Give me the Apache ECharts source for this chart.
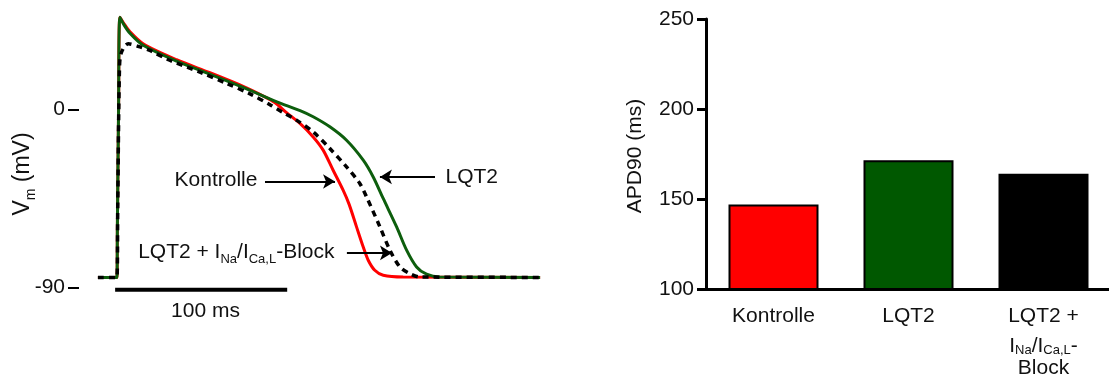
<!DOCTYPE html>
<html>
<head>
<meta charset="utf-8">
<script src="https://cdn.jsdelivr.net/npm/echarts@6/dist/echarts.min.js"></script>
<style>
  html, body { margin: 0; padding: 0; background: #fff; }
  #chart { width: 1109px; height: 378px; }
</style>
</head>
<body>
<div id="chart"></div>
<script>
// Action potential traces: [time (ms), membrane potential (mV)]
var kontrolleTrace = [
  [-11, -85], [0, -85], [0.3, -60], [1.0, 0], [1.8, 46.8], [4, 43.8], [7.6, 39.5],
  [15.3, 33.4], [34.7, 25.3], [54.1, 18.7], [73.4, 11.8], [86, 6.5], [92, 3.5],
  [98.6, -1.5], [106.4, -7.0], [114.1, -13.8], [119.9, -20.5], [125.7, -30.7],
  [131.5, -40.8], [135, -48], [139.3, -59.4], [143.2, -69.6], [146.1, -76.3],
  [149.9, -81.4], [154.8, -83.9], [166.4, -84.8], [246, -85]
];
var lqt2Trace = [
  [-11, -85], [0, -85], [0.3, -60], [1.0, 0], [1.8, 46.8], [4, 43.2], [7.6, 38.7],
  [15.3, 32.6], [34.7, 24.6], [54.1, 18.0], [73.4, 11.3], [93, 4.0], [106.5, -0.5],
  [114.1, -3.6], [123.8, -8.7], [133.5, -15.5], [143.2, -25.6], [149, -34.1],
  [154.8, -45], [162.6, -59.4], [168.4, -71.2], [174.2, -79.7], [180, -83.4],
  [187.7, -84.8], [246, -85]
];
var blockTrace = [
  [-11, -85], [0, -85], [0.5, -50], [1.5, 20], [2.5, 28.6], [6.6, 33.4], [13.4, 31.8],
  [19.2, 30.0], [30, 25.3], [48.3, 19.0], [63.8, 13.3], [77.4, 8.0], [89, 2.5],
  [96.7, -1.5], [104.4, -5.3], [114.1, -11.3], [123.8, -19.7], [133.5, -29.0],
  [141.2, -37.4], [145.1, -44.2], [152.9, -59.4], [158.7, -71.2], [164.5, -79.7],
  [170.3, -83.1], [176.1, -84.8], [246, -85]
];
var potentialTicks = [-90, 0];
var scaleBar = [[-1, -91.2], [99, -91.2]];
var scaleBarText = '100 ms';

// Bar panel: APD90 per condition
var barCategories = [
  'Kontrolle',
  'LQT2',
  'LQT2 +\n{z|\u200b}{m|I}{s|Na}{m|/I}{s|Ca,L}{m|-}\nBlock'
];
var apd90Values = [147, 171.5, 164];
var barColors = ['#ff0000', '#005800', '#000000'];
var apdTicks = { min: 100, max: 250, step: 50 };

var FONT = '"Liberation Sans", Arial, sans-serif';
var INK = '#111';
var FS = 21;
var subRich = {
  s: { fontSize: 13, fontFamily: FONT, color: INK, verticalAlign: 'bottom', lineHeight: 28 }
};

var chart = echarts.init(document.getElementById('chart'), null, { renderer: 'canvas' });

var traceLine = function (name, data, color, dashed) {
  return {
    name: name, type: 'line', xAxisIndex: 0, yAxisIndex: 0, data: data,
    showSymbol: false, symbol: 'none', smooth: 0.3,
    animation: false, silent: true,
    lineStyle: dashed
      ? { color: color, width: 3.5, type: [6, 5], cap: 'butt' }
      : { color: color, width: 3 }
  };
};

chart.setOption({
  backgroundColor: '#ffffff',
  animation: false,
  textStyle: { fontFamily: FONT, color: INK },
  grid: [
    { left: 79, top: 11, width: 468, height: 296, outerBoundsMode: 'none' },
    { left: 706, top: 19, width: 405, height: 270, outerBoundsMode: 'none' }
  ],
  xAxis: [
    { gridIndex: 0, type: 'value', min: -22, max: 250, show: false },
    {
      gridIndex: 1, type: 'category', data: barCategories,
      axisLine: { show: true, lineStyle: { color: '#000', width: 3 } },
      axisTick: { show: false },
      axisLabel: {
        margin: 16, fontSize: FS, color: INK, fontFamily: FONT, lineHeight: 22,
        interval: 0,
        rich: {
          z: { fontSize: FS, fontFamily: FONT, color: INK, lineHeight: 30 },
          m: { fontSize: FS, fontFamily: FONT, color: INK, lineHeight: 22, verticalAlign: 'bottom' },
          s: { fontSize: 13, fontFamily: FONT, color: INK, lineHeight: 9, verticalAlign: 'bottom' }
        }
      },
      splitLine: { show: false }
    }
  ],
  yAxis: [
    {
      gridIndex: 0, type: 'value', min: -100, max: 50,
      axisLine: { show: false, onZero: false },
      splitLine: { show: false },
      axisTick: { show: true, length: 11, customValues: potentialTicks, lineStyle: { color: '#000', width: 2 } },
      axisLabel: { customValues: potentialTicks, margin: 14, fontSize: FS, color: INK, fontFamily: FONT }
    },
    {
      gridIndex: 1, type: 'value', min: apdTicks.min, max: apdTicks.max, interval: apdTicks.step,
      axisLine: { show: true, lineStyle: { color: '#000', width: 3 } },
      axisTick: { show: true, length: 9, lineStyle: { color: '#000', width: 3 } },
      axisLabel: { margin: 12, fontSize: FS, color: INK, fontFamily: FONT },
      splitLine: { show: false },
      name: 'APD90 (ms)', nameLocation: 'middle', nameGap: 60, nameRotate: 90,
      nameTextStyle: { fontSize: FS, color: INK, fontFamily: FONT, padding: [0, 4, 0, 0] }
    }
  ],
  graphic: [
    {
      type: 'text', x: 23, y: 174, rotation: Math.PI / 2,
      style: {
        text: 'V{s|m} (mV)', fontSize: 23, fontFamily: FONT, fill: INK,
        align: 'center', verticalAlign: 'middle',
        rich: { s: { fontSize: 14, fontFamily: FONT, fill: INK, verticalAlign: 'bottom', lineHeight: 30 } }
      }
    }
  ],
  series: [
    traceLine('Kontrolle', kontrolleTrace, '#ff0000', false),
    traceLine('LQT2', lqt2Trace, '#0d5e0d', false),
    traceLine('LQT2 + INa/ICa,L-Block', blockTrace, '#000000', true),
    {
      name: 'scale', type: 'line', xAxisIndex: 0, yAxisIndex: 0, data: scaleBar,
      symbol: 'none', silent: true, lineStyle: { color: '#000', width: 4, cap: 'butt' }
    },
    {
      name: 'annotations', type: 'scatter', xAxisIndex: 0, yAxisIndex: 0,
      symbolSize: 1, itemStyle: { color: 'rgba(0,0,0,0)', opacity: 1 }, silent: true,
      label: {
        show: true, formatter: function (p) { return p.data.text; },
        fontSize: FS, fontFamily: FONT, color: INK, rich: subRich
      },
      data: [
        { value: [82, -35.6], text: 'Kontrolle', label: { position: 'left', distance: 0 } },
        { value: [190.7, -34.1], text: 'LQT2', label: { position: 'right', distance: 0 } },
        { value: [126.8, -72], text: 'LQT2 + I{s|Na}/I{s|Ca,L}-Block', label: { position: 'left', distance: 0 } },
        { value: [51.5, -91.2], text: scaleBarText, label: { position: 'bottom', distance: 11 } }
      ],
      markLine: {
        silent: true, animation: false,
        symbol: ['none', 'arrow'], symbolSize: [11, 12],
        label: { show: false },
        lineStyle: { color: '#000', width: 2, type: 'solid', opacity: 1 },
        data: [
          [{ coord: [86.1, -36.4] }, { coord: [126.8, -36.4] }],
          [{ coord: [184.9, -34.1] }, { coord: [152.9, -34.1] }],
          [{ coord: [133.7, -72.6] }, { coord: [159.9, -72.6] }]
        ]
      }
    },
    {
      name: 'APD90', type: 'bar', xAxisIndex: 1, yAxisIndex: 1,
      barWidth: 90, silent: true,
      data: apd90Values.map(function (v, i) {
        return { value: v, itemStyle: { color: barColors[i] } };
      }),
      itemStyle: { borderColor: '#000', borderWidth: 2 }
    }
  ]
});
</script>
</body>
</html>
